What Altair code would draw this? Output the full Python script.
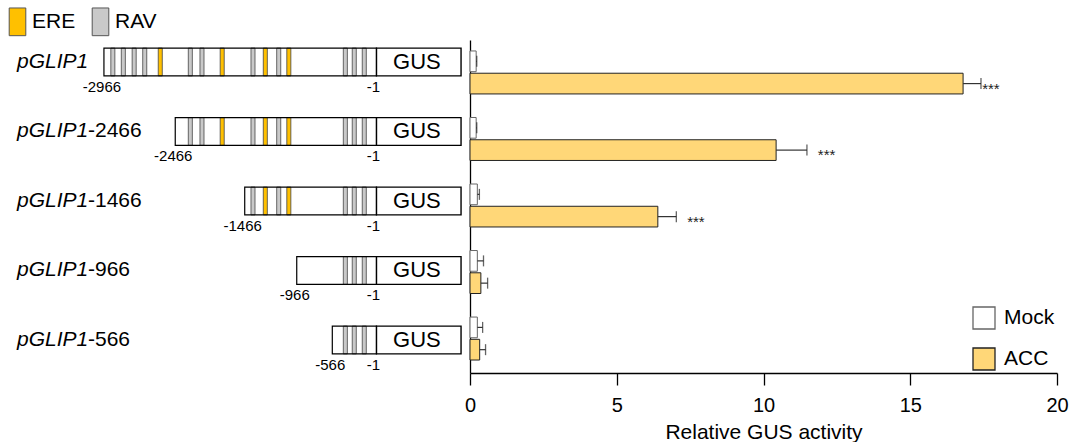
import altair as alt
import pandas as pd

# ---------------- data ----------------
gene_name = "pGLIP1"
constructs = ["pGLIP1", "pGLIP1-2466", "pGLIP1-1466", "pGLIP1-966", "pGLIP1-566"]
name_suffix = ["", "-2466", "-1466", "-966", "-566"]
start_labels = ["-2966", "-2466", "-1466", "-966", "-566"]
end_label = "-1"
# schematic start of each promoter fragment (drawing coordinate, bp-like; -1 sits at 0)
drawn_start = [-2966, -2190, -1434, -868, -481]
gus_end = 920

# cis-elements on the full-length promoter (schematic coordinate)
element_pos = [-2869, -2755, -2637, -2522, -2353, -2026, -1899, -1679,
               -1344, -1210, -1064, -954, -339, -242, -133]
element_type = ["RAV", "RAV", "RAV", "RAV", "ERE", "RAV", "RAV", "ERE",
                "RAV", "ERE", "RAV", "ERE", "RAV", "RAV", "RAV"]

# relative GUS activity
conditions = ["Mock", "ACC"]
mock_mean = [0.21, 0.21, 0.25, 0.25, 0.25]
mock_se = [0.02, 0.02, 0.07, 0.21, 0.18]
acc_mean = [16.8, 10.43, 6.40, 0.37, 0.33]
acc_se = [0.61, 1.05, 0.63, 0.23, 0.20]
significance = ["***", "***", "***", "", ""]
star_x = [17.45, 11.85, 7.4, None, None]

# ---------------- styles ----------------
FONT = "Liberation Sans"
ERE_COLOR = "#FFC000"
RAV_COLOR = "#C9C9C9"
ACC_COLOR = "#FFD778"
ELEM_HALF = 22      # half width of a cis-element box (bp)
BOX_HALF = 0.2      # half height of a construct box (row units)

rows = list(range(1, len(constructs) + 1))

# ---------------- left panel: promoter schematics ----------------
frag = pd.DataFrame({
    "row": rows,
    "gene": [gene_name] * len(rows),
    "suffix": name_suffix,
    "start": drawn_start,
    "start_label": start_labels,
    "end_label": [end_label] * len(rows),
    "tss": [0] * len(rows),
    "gus_end": [gus_end] * len(rows),
    "gus": ["GUS"] * len(rows),
})

elem_records = []
for r, s in zip(rows, drawn_start):
    for p, t in zip(element_pos, element_type):
        if p > s:
            elem_records.append({"row": r, "pos": p, "type": t})
elem = pd.DataFrame(elem_records)

xs = alt.Scale(domain=[-4097, 963], nice=False, zero=False)
ys = alt.Scale(domain=[0.6835, 5.475], nice=False, zero=False, reverse=True)

base_frag = alt.Chart(frag).transform_calculate(
    y_top=f"datum.row - {BOX_HALF}",
    y_bot=f"datum.row + {BOX_HALF}",
    gus_mid="datum.gus_end / 2 - 20",
)

promoter_fill = base_frag.mark_rect(fill="white", strokeWidth=0).encode(
    x=alt.X("start:Q", scale=xs, axis=None),
    x2="tss:Q",
    y=alt.Y("y_top:Q", scale=ys, axis=None),
    y2="y_bot:Q",
)

elements = alt.Chart(elem).transform_calculate(
    x_lo=f"datum.pos - {ELEM_HALF}",
    x_hi=f"datum.pos + {ELEM_HALF}",
    y_top=f"datum.row - {BOX_HALF}",
    y_bot=f"datum.row + {BOX_HALF}",
).mark_rect(stroke="#444444", strokeWidth=0.8).encode(
    x=alt.X("x_lo:Q", scale=xs, axis=None),
    x2="x_hi:Q",
    y=alt.Y("y_top:Q", scale=ys, axis=None),
    y2="y_bot:Q",
    fill=alt.Fill(
        "type:N",
        scale=alt.Scale(domain=["ERE", "RAV"], range=[ERE_COLOR, RAV_COLOR]),
        legend=alt.Legend(
            title=None, orient="none", legendX=3, legendY=-33,
            direction="horizontal",
            symbolType="M-0.6,-1H0.6V1H-0.6Z", symbolSize=767,
            symbolStrokeColor="#555555", symbolStrokeWidth=1,
            labelFontSize=21, labelColor="black", labelFont=FONT,
            labelOffset=0, columnPadding=10, padding=0,
        ),
    ),
)

promoter_outline = base_frag.mark_rect(fillOpacity=0, stroke="black", strokeWidth=1.2).encode(
    x=alt.X("start:Q", scale=xs, axis=None),
    x2="tss:Q",
    y=alt.Y("y_top:Q", scale=ys, axis=None),
    y2="y_bot:Q",
)

gus_box = base_frag.mark_rect(fill="white", stroke="black", strokeWidth=1.4).encode(
    x=alt.X("tss:Q", scale=xs, axis=None),
    x2="gus_end:Q",
    y=alt.Y("y_top:Q", scale=ys, axis=None),
    y2="y_bot:Q",
)

gus_text = base_frag.mark_text(fontSize=22, baseline="middle", color="black").encode(
    x=alt.X("gus_mid:Q", scale=xs, axis=None),
    y=alt.Y("row:Q", scale=ys, axis=None),
    text="gus:N",
)

start_text = base_frag.mark_text(fontSize=15, baseline="middle", dy=11, dx=-2, color="black").encode(
    x=alt.X("start:Q", scale=xs, axis=None),
    y=alt.Y("y_bot:Q", scale=ys, axis=None),
    text="start_label:N",
)

end_text = base_frag.mark_text(fontSize=15, baseline="middle", dy=11, dx=-3, color="black").encode(
    x=alt.X("tss:Q", scale=xs, axis=None),
    y=alt.Y("y_bot:Q", scale=ys, axis=None),
    text="end_label:N",
)

name_italic = base_frag.mark_text(fontSize=21, fontStyle="italic", align="left",
                                  baseline="middle", color="black").encode(
    x=alt.value(17),
    y=alt.Y("row:Q", scale=ys, axis=None),
    text="gene:N",
)

name_suffix_text = base_frag.mark_text(fontSize=21, align="left", baseline="middle",
                                       dx=71, color="black").encode(
    x=alt.value(17),
    y=alt.Y("row:Q", scale=ys, axis=None),
    text="suffix:N",
)

left = alt.layer(
    promoter_fill, elements, promoter_outline, gus_box, gus_text,
    start_text, end_text, name_italic, name_suffix_text,
).properties(width=465, height=333)

# ---------------- right panel: GUS activity ----------------
bars_df = pd.DataFrame({
    "construct": constructs * 2,
    "condition": ["Mock"] * len(constructs) + ["ACC"] * len(constructs),
    "mean": mock_mean + acc_mean,
    "se": mock_se + acc_se,
})

stars_df = pd.DataFrame({
    "construct": constructs,
    "condition": ["ACC"] * len(constructs),
    "sig": significance,
    "sx": star_x,
}).dropna()

yb = alt.Y(
    "construct:N", sort=constructs,
    scale=alt.Scale(domain=constructs, paddingInner=0.354, paddingOuter=0.18, align=0.458),
    axis=alt.Axis(labels=False, ticks=False, title=None, domainColor="black", domainWidth=1.3),
)
yoff = alt.YOffset(
    "condition:N", sort=conditions,
    scale=alt.Scale(domain=conditions, paddingInner=0.07, paddingOuter=0),
)
xb_scale = alt.Scale(domain=[0, 20], nice=False, zero=True)

bars = alt.Chart(bars_df).mark_bar(strokeWidth=1).encode(
    x=alt.X(
        "mean:Q", scale=xb_scale,
        axis=alt.Axis(
            values=[0, 5, 10, 15, 20], grid=False, labelFlush=False,
            tickSize=12, tickWidth=1.3, tickColor="black",
            domainColor="black", domainWidth=1.3,
            labelFontSize=20, labelColor="black", labelPadding=10, labelFont=FONT,
            title="Relative GUS activity", titleFontSize=21, titleFontWeight="normal",
            titleColor="black", titlePadding=6, titleFont=FONT,
        ),
    ),
    y=yb,
    yOffset=yoff,
    fill=alt.Fill(
        "condition:N",
        scale=alt.Scale(domain=conditions, range=["white", ACC_COLOR]),
        legend=alt.Legend(
            title=None, orient="none", legendX=502, legendY=266,
            symbolType="square", symbolSize=484,
            symbolStrokeColor="#555555", symbolStrokeWidth=1.3,
            labelFontSize=21, labelColor="black", labelFont=FONT,
            labelOffset=8, rowPadding=13, padding=0,
        ),
    ),
    stroke=alt.Stroke(
        "condition:N",
        scale=alt.Scale(domain=conditions, range=["#666666", "#222222"]),
        legend=None,
    ),
)

err_base = alt.Chart(bars_df).transform_calculate(hi="datum.mean + datum.se")

err_line = err_base.mark_rule(color="#333333", strokeWidth=1.2).encode(
    x=alt.X("mean:Q", scale=xb_scale),
    x2="hi:Q",
    y=yb,
    yOffset=yoff,
)

err_cap = err_base.mark_tick(color="#222222", thickness=1.3, size=11).encode(
    x=alt.X("hi:Q", scale=xb_scale),
    y=yb,
    yOffset=yoff,
)

stars = alt.Chart(stars_df).mark_text(align="left", baseline="middle", fontSize=15,
                                      dy=5, color="#222222").encode(
    x=alt.X("sx:Q", scale=xb_scale),
    y=yb,
    yOffset=yoff,
    text="sig:N",
)

right = alt.layer(bars, err_line, err_cap, stars).properties(width=587, height=333)

chart = alt.hconcat(left, right, spacing=5, bounds="flush").resolve_scale(
    fill="independent", stroke="independent", x="independent", y="independent"
).resolve_legend(fill="independent").configure(
    font=FONT, padding={"left": 0, "top": 7, "right": 5, "bottom": 0}
).configure_view(stroke=None)

chart.save("out.html", embed_options={"renderer": "svg", "actions": False})
